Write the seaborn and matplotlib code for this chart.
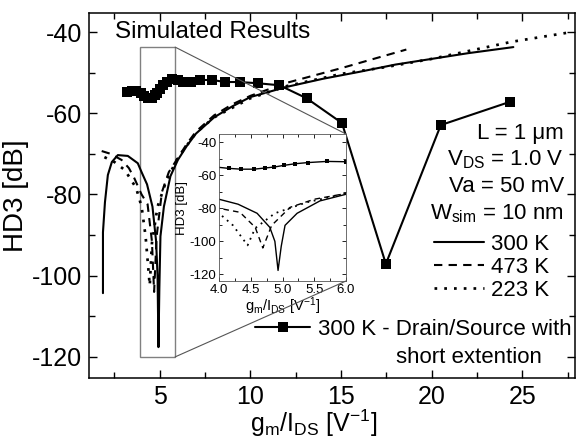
import matplotlib
matplotlib.use('Agg')
import matplotlib.pyplot as plt
import seaborn as sns
from matplotlib.patches import Rectangle, ConnectionPatch
from matplotlib.ticker import MultipleLocator, FormatStrFormatter

# data
x_300 = [1.87, 1.87, 1.98, 2.14, 2.36, 2.69, 3.24, 3.79, 4.0, 4.3, 4.6, 4.8, 4.88, 4.93,
         4.98, 5.04, 5.23, 5.59, 6.0, 6.5, 7.0, 8.0, 9.0, 10.0, 12.0, 14.0, 16.0, 18.0,
         20.0, 22.0, 24.5]
y_300 = [-104.3, -89.3, -81.9, -75.2, -72.0, -70.3, -70.5, -72.3, -74.5, -77.5, -83.0,
         -91.5, -100.0, -117.6, -103.0, -90.3, -83.0, -75.5, -71.5, -68.0, -65.0, -61.0,
         -58.3, -56.0, -53.5, -51.5, -49.8, -48.0, -46.6, -45.2, -43.7]

x_473 = [1.8, 2.3, 2.9, 3.3, 3.6, 4.0, 4.33, 4.57, 4.69, 4.83, 5.12, 5.5, 6.0, 6.5, 7.0,
         8.0, 9.0, 10.0, 12.0, 15.0, 18.6]
y_473 = [-69.3, -70.0, -71.5, -73.5, -76.0, -80.0, -82.4, -91.5, -104.0, -90.3, -79.4,
         -74.5, -71.0, -67.5, -64.5, -60.5, -57.8, -55.7, -52.5, -48.9, -44.3]

x_223 = [1.95, 2.5, 3.08, 3.7, 4.0, 4.22, 4.45, 4.57, 4.88, 5.38, 6.0, 7.0, 8.0, 10.0,
         12.0, 15.0, 17.5, 20.0, 24.4, 27.7]
y_223 = [-70.8, -72.0, -74.0, -78.4, -83.0, -90.3, -102.4, -92.0, -83.0, -76.4, -71.0,
         -64.8, -61.0, -56.3, -53.3, -50.3, -48.6, -46.6, -42.4, -40.0]

x_ext = [3.2, 3.45, 3.7, 3.95, 4.15, 4.35, 4.55, 4.72, 4.87, 5.02, 5.2, 5.4, 5.7, 6.0,
         6.3, 6.75, 7.2, 7.9, 8.6, 9.4, 10.4, 11.6, 13.1, 15.05, 17.47, 20.5, 24.3]
y_ext = [-54.8, -54.6, -54.4, -55.0, -55.8, -56.3, -56.3, -55.6, -55.0, -54.0, -53.0,
         -52.3, -51.6, -51.8, -52.3, -52.3, -51.8, -51.8, -52.3, -52.3, -52.6, -53.1,
         -56.3, -62.4, -97.1, -62.9, -57.2]

legend_labels = ['300 K', '473 K', '223 K', '300 K - Drain/Source with']
param_lines = ['L = 1 μm', 'V$_{DS}$ = 1.0 V', 'Va = 50 mV', 'W$_{sim}$ = 10 nm']

sns.set_style('ticks')
plt.rcParams['font.family'] = ['Liberation Sans', 'DejaVu Sans']
plt.rcParams['mathtext.default'] = 'regular'
plt.rcParams['axes.unicode_minus'] = False
for k in ['text.color', 'axes.labelcolor', 'xtick.color', 'ytick.color', 'axes.edgecolor']:
    plt.rcParams[k] = 'black'

fig = plt.figure(figsize=(5.76, 4.40), dpi=100)
ax = fig.add_axes([89 / 576, 62 / 440, 486 / 576, 365 / 440])


def draw_curves(a, lw, ms):
    sns.lineplot(x=x_300, y=y_300, ax=a, estimator=None, sort=False, color='black', lw=lw)
    sns.lineplot(x=x_473, y=y_473, ax=a, estimator=None, sort=False, color='black', lw=lw,
                 linestyle=(0, (4, 3)))
    sns.lineplot(x=x_223, y=y_223, ax=a, estimator=None, sort=False, color='black',
                 lw=lw * 1.3, linestyle=(0, (1, 2.6)))
    sns.lineplot(x=x_ext, y=y_ext, ax=a, estimator=None, sort=False, color='black',
                 lw=lw, marker='s', markersize=ms, markeredgewidth=0)


draw_curves(ax, 1.5, 7.5)

ax.set_xlim(1.1, 27.9)
ax.set_ylim(-125.2, -35.3)
ax.xaxis.set_major_locator(MultipleLocator(5))
ax.xaxis.set_minor_locator(MultipleLocator(2.5))
ax.yaxis.set_major_locator(MultipleLocator(20))
ax.yaxis.set_minor_locator(MultipleLocator(10))
ax.tick_params(which='both', direction='in', top=True, right=True, width=1, labelsize=18, pad=5)
ax.tick_params(which='major', length=6)
ax.tick_params(which='minor', length=4)
for s in ax.spines.values():
    s.set_linewidth(1.1)
ax.set_xlabel('g$_m$/I$_{DS}$ [V$^{-1}$]', fontsize=18)
ax.xaxis.set_label_coords(0.463, -0.082)
ax.set_ylabel('HD3 [dB]', fontsize=20, labelpad=2)

ax.text(0.053, 0.948, 'Simulated Results', transform=ax.transAxes, fontsize=17.5,
        ha='left', va='center')

# zoom box
ax.add_patch(Rectangle((3.9, -120), 1.95, 76.3, fill=False, ec='gray', lw=1))

# parameters block
for i, t in enumerate(param_lines):
    ax.text(0.977, 0.671 - i * 0.0735, t, transform=ax.transAxes, fontsize=16,
            ha='right', va='center')

h = ax.lines
leg1 = ax.legend(h[:3], legend_labels[:3], loc='upper left', bbox_to_anchor=(0.7105, 0.395),
                 frameon=False, fontsize=16, handlelength=2.25, handletextpad=0.3,
                 labelspacing=0.1, borderpad=0, borderaxespad=0)
ax.add_artist(leg1)
ax.legend(h[3:4], legend_labels[3:], loc='upper left', bbox_to_anchor=(0.341, 0.162),
          frameon=False, fontsize=16, handlelength=2.5, handletextpad=0.36,
          borderpad=0, borderaxespad=0)
ax.text(0.782, 0.055, 'short extention', transform=ax.transAxes, fontsize=16,
        ha='center', va='center')

# inset
axins = fig.add_axes([219 / 576, 1 - 281 / 440, 127 / 576, 147 / 440])
axins.set_facecolor('white')
draw_curves(axins, 1.0, 3.5)
axins.set_xlim(4.0, 6.0)
axins.set_ylim(-124, -35)
axins.xaxis.set_major_locator(MultipleLocator(0.5))
axins.xaxis.set_minor_locator(MultipleLocator(0.25))
axins.xaxis.set_major_formatter(FormatStrFormatter('%.1f'))
axins.yaxis.set_major_locator(MultipleLocator(20))
axins.yaxis.set_minor_locator(MultipleLocator(10))
axins.tick_params(which='both', direction='in', top=True, right=True, width=0.6,
                  labelsize=9.5, pad=2)
axins.tick_params(which='major', length=3)
axins.tick_params(which='minor', length=2)
for s in axins.spines.values():
    s.set_linewidth(0.6)
    s.set_color('#555555')
axins.set_xlabel('g$_m$/I$_{DS}$ [V$^{-1}$]', fontsize=10.5, labelpad=0)
axins.set_ylabel('HD3 [dB]', fontsize=9.5, labelpad=1)

for xa, xb in [((5.85, -43.7), (1, 1)), ((5.85, -120), (1, 0))]:
    fig.add_artist(ConnectionPatch(xyA=xa, coordsA=ax.transData, xyB=xb,
                                   coordsB=axins.transAxes, color='#555555', lw=0.8))

plt.savefig('out.png', dpi=100)
